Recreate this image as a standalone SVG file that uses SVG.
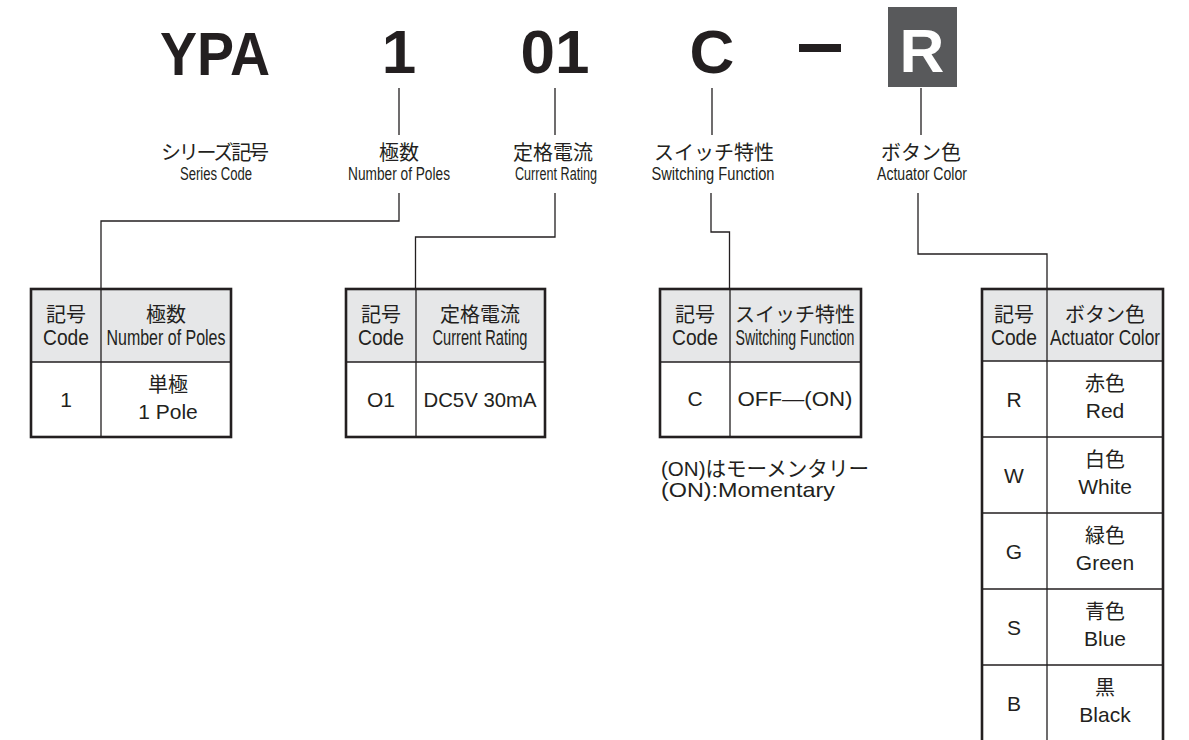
<svg xmlns="http://www.w3.org/2000/svg" width="1189" height="740" viewBox="0 0 1189 740">
<style>
.big{font-family:"Liberation Sans",Arial,sans-serif;font-weight:bold;font-size:62px;fill:#231f20;text-anchor:middle}
.jp{font-family:"Liberation Sans","Noto Sans CJK JP",sans-serif;font-size:20px;fill:#231f20;text-anchor:middle}
.en{font-family:"Liberation Sans",Arial,sans-serif;font-size:17.5px;fill:#231f20;text-anchor:middle}
.hen{font-family:"Liberation Sans",Arial,sans-serif;font-size:22px;fill:#231f20;text-anchor:middle}
.dat{font-family:"Liberation Sans","Noto Sans CJK JP",sans-serif;font-size:21px;fill:#231f20;text-anchor:middle}
.note{font-family:"Liberation Sans","Noto Sans CJK JP",sans-serif;font-size:21px;fill:#231f20}
.ln{stroke:#231f20;stroke-width:1.3;fill:none}
.frame{stroke:#231f20;stroke-width:2.6;fill:none}
.hdr{fill:#e6e7e8}
</style>
<rect width="1189" height="740" fill="#ffffff"/>
<g id="code">
<text class="big" x="160" y="75" style="text-anchor:start" textLength="110" lengthAdjust="spacingAndGlyphs">YPA</text>
<text class="big" x="399" y="73">1</text>
<text class="big" x="555" y="73">01</text>
<text class="big" x="712" y="73">C</text>
<rect x="799" y="44" width="42" height="8" fill="#231f20"/>
<rect x="888" y="7" width="69" height="80" fill="#58595b"/>
<text class="big" x="922" y="72" style="fill:#ffffff">R</text>
</g>
<g id="labels">
<text class="jp" x="215" y="160" textLength="108" lengthAdjust="spacing">シリーズ記号</text>
<text class="en" x="216" y="180" textLength="72" lengthAdjust="spacingAndGlyphs">Series Code</text>
<text class="jp" x="399" y="160">極数</text>
<text class="en" x="399" y="180" textLength="102" lengthAdjust="spacingAndGlyphs">Number of Poles</text>
<text class="jp" x="553" y="160">定格電流</text>
<text class="en" x="556" y="180" textLength="82" lengthAdjust="spacingAndGlyphs">Current Rating</text>
<text class="jp" x="714" y="160">スイッチ特性</text>
<text class="en" x="713" y="180" textLength="123" lengthAdjust="spacingAndGlyphs">Switching  Function</text>
<text class="jp" x="921" y="160">ボタン色</text>
<text class="en" x="922" y="180" textLength="90" lengthAdjust="spacingAndGlyphs">Actuator Color</text>
</g>
<g id="connectors">
<path class="ln" d="M399,88V135M555,88V135M712,88V135M921,88V135"/>
<path class="ln" d="M399,193V221H101V289"/>
<path class="ln" d="M555,193V237H415.5V289"/>
<path class="ln" d="M711,193V232H729.5V289"/>
<path class="ln" d="M918,193V254H1047V289"/>
</g>
<g id="table-poles">
<rect class="hdr" x="31" y="289" width="200" height="73"/>
<path class="ln" d="M31,362H231M101,289V437"/>
<rect class="frame" x="31" y="289" width="200" height="148"/>
<text class="jp" x="66" y="322">記号</text>
<text class="hen" x="66" y="345" textLength="46" lengthAdjust="spacingAndGlyphs">Code</text>
<text class="jp" x="166" y="322">極数</text>
<text class="hen" x="166" y="345" textLength="119" lengthAdjust="spacingAndGlyphs">Number of Poles</text>
<text class="dat" x="66" y="407">1</text>
<text class="jp" x="168" y="392">単極</text>
<text class="dat" x="168" y="419">1 Pole</text>
</g>
<g id="table-current">
<rect class="hdr" x="346" y="289" width="199" height="73"/>
<path class="ln" d="M346,362H545M416,289V437"/>
<rect class="frame" x="346" y="289" width="199" height="148"/>
<text class="jp" x="381" y="322">記号</text>
<text class="hen" x="381" y="345" textLength="46" lengthAdjust="spacingAndGlyphs">Code</text>
<text class="jp" x="480" y="322">定格電流</text>
<text class="hen" x="480" y="345" textLength="95" lengthAdjust="spacingAndGlyphs">Current Rating</text>
<text class="dat" x="381" y="407">O1</text>
<text class="dat" x="480" y="407" textLength="113" lengthAdjust="spacingAndGlyphs">DC5V 30mA</text>
</g>
<g id="table-function">
<rect class="hdr" x="660" y="289" width="201" height="73"/>
<path class="ln" d="M660,362H861M730,289V437"/>
<rect class="frame" x="660" y="289" width="201" height="148"/>
<text class="jp" x="695" y="322">記号</text>
<text class="hen" x="695" y="345" textLength="46" lengthAdjust="spacingAndGlyphs">Code</text>
<text class="jp" x="795" y="322">スイッチ特性</text>
<text class="hen" x="795" y="345" textLength="119" lengthAdjust="spacingAndGlyphs">Switching  Function</text>
<text class="dat" x="695" y="406">C</text>
<text class="dat" x="795" y="406" textLength="115" lengthAdjust="spacingAndGlyphs">OFF—(ON)</text>
<text class="note" x="661" y="476" textLength="208" lengthAdjust="spacingAndGlyphs">(ON)はモーメンタリー</text>
<text class="note" x="661" y="497" textLength="174" lengthAdjust="spacingAndGlyphs">(ON):Momentary</text>
</g>
<g id="table-color">
<rect class="hdr" x="982" y="289" width="181" height="72"/>
<path class="ln" d="M982,361H1163M982,437H1163M982,513H1163M982,589H1163M982,665H1163M1047,289V745"/>
<rect class="frame" x="982" y="289" width="181" height="460"/>
<text class="jp" x="1014" y="322">記号</text>
<text class="hen" x="1014" y="345" textLength="46" lengthAdjust="spacingAndGlyphs">Code</text>
<text class="jp" x="1105" y="322">ボタン色</text>
<text class="hen" x="1105" y="345" textLength="110" lengthAdjust="spacingAndGlyphs">Actuator Color</text>
<text class="dat" x="1014" y="407">R</text>
<text class="jp" x="1105" y="391">赤色</text>
<text class="dat" x="1105" y="418">Red</text>
<text class="dat" x="1014" y="483">W</text>
<text class="jp" x="1105" y="467">白色</text>
<text class="dat" x="1105" y="494">White</text>
<text class="dat" x="1014" y="559">G</text>
<text class="jp" x="1105" y="543">緑色</text>
<text class="dat" x="1105" y="570">Green</text>
<text class="dat" x="1014" y="635">S</text>
<text class="jp" x="1105" y="619">青色</text>
<text class="dat" x="1105" y="646">Blue</text>
<text class="dat" x="1014" y="711">B</text>
<text class="jp" x="1105" y="695">黒</text>
<text class="dat" x="1105" y="722">Black</text>
</g>
</svg>
